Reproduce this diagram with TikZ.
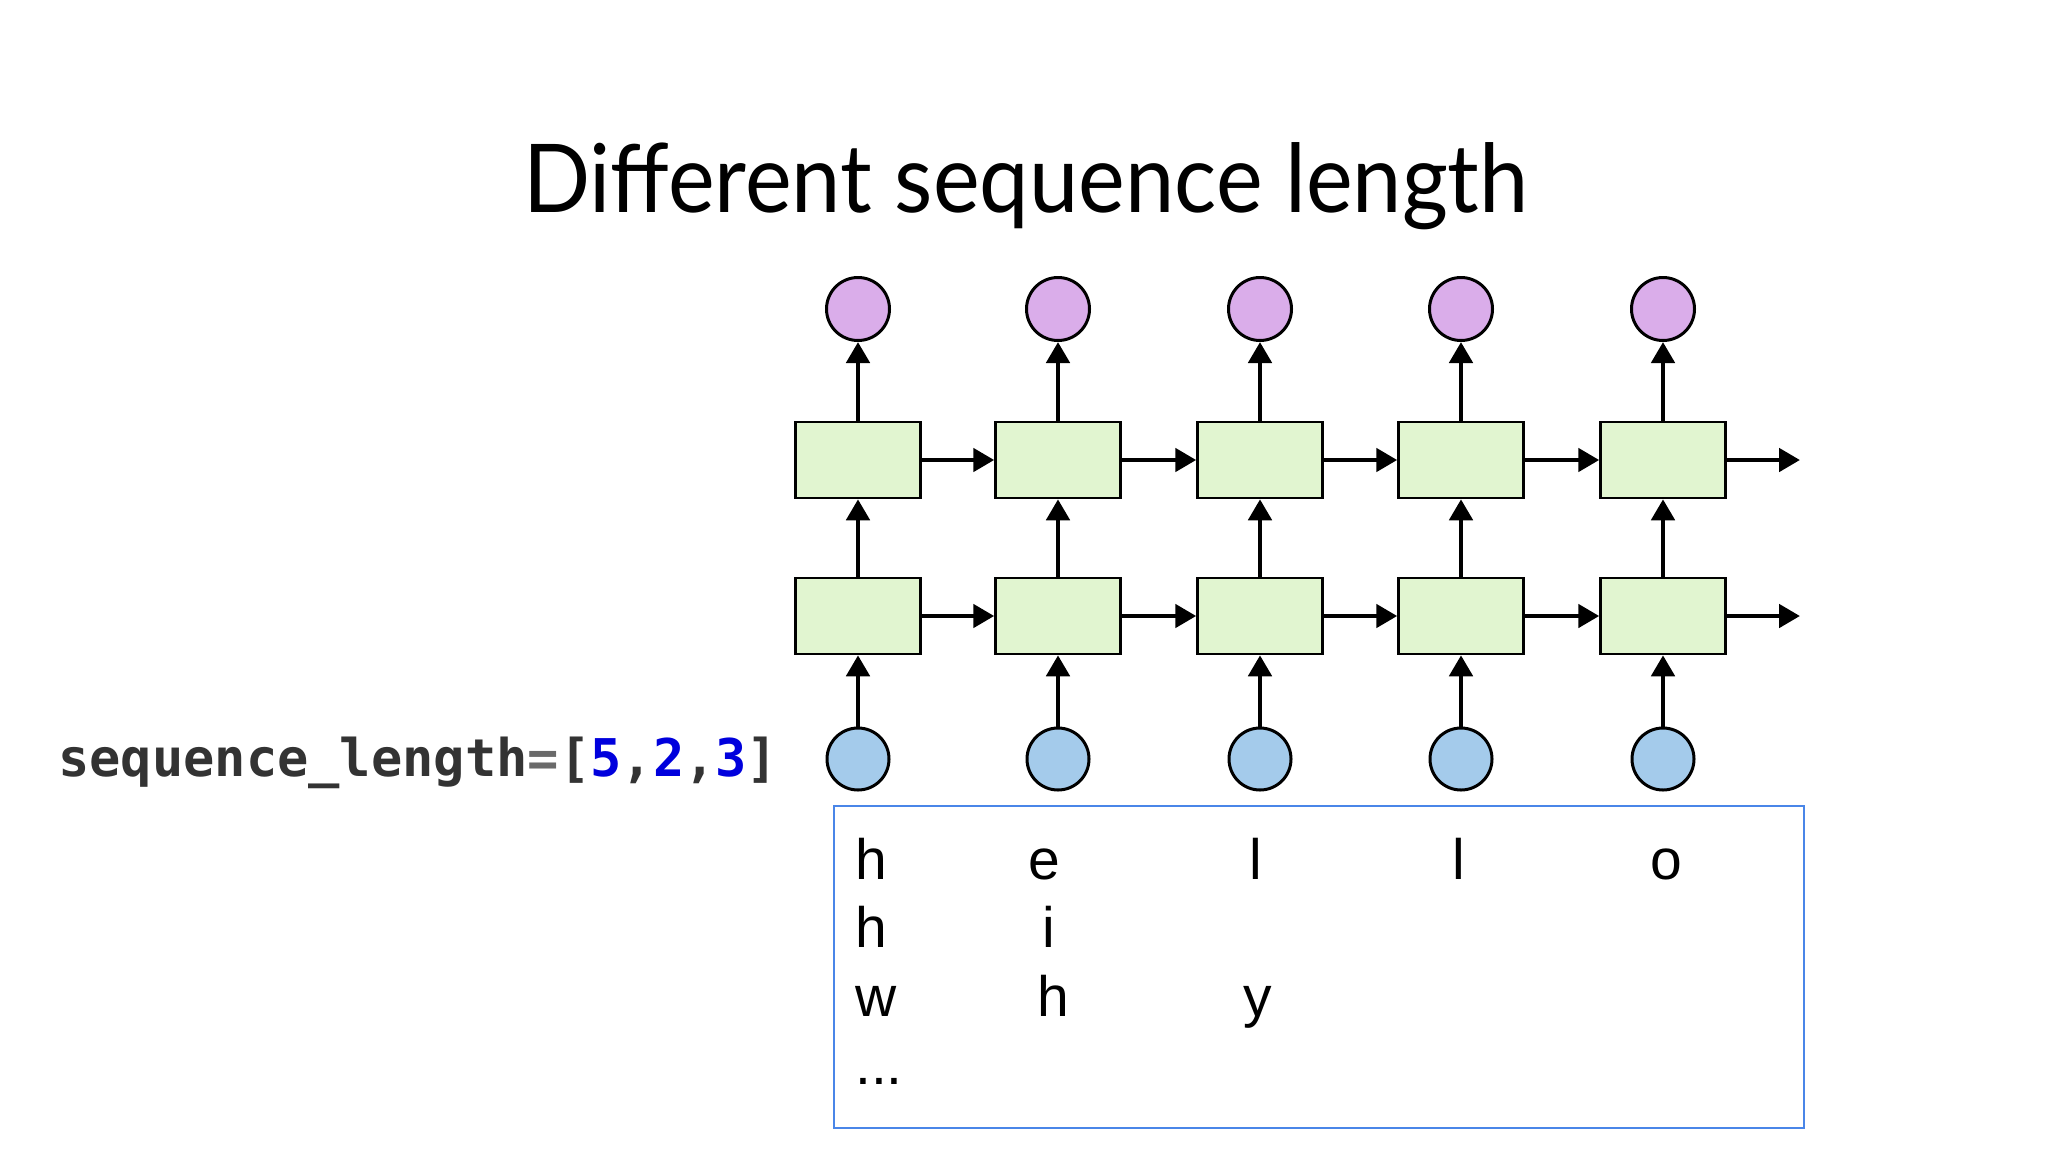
\documentclass[tikz,border=0pt]{standalone}
\usepackage{fontspec}
\setmainfont{Lato}
\newfontfamily\codefont{DejaVu Sans Mono}
\newfontfamily\arialfont{Liberation Sans}
\usetikzlibrary{arrows.meta}
\definecolor{cellgreen}{HTML}{E1F5D0}
\definecolor{outpurple}{HTML}{DAADEA}
\definecolor{inblue}{HTML}{A4CBEB}
\definecolor{boxblue}{HTML}{4A86E8}
\definecolor{codegray}{HTML}{333333}
\definecolor{eqgray}{HTML}{6A6A6A}
\definecolor{numblue}{HTML}{0000DD}
\tikzset{
  cell/.style={draw=black, line width=2.5pt, fill=cellgreen, minimum width=125pt, minimum height=76pt, inner sep=0pt},
  outc/.style={circle, draw=black, line width=3pt, fill=outpurple, minimum size=63pt, inner sep=0pt},
  inc/.style={circle, draw=black, line width=3pt, fill=inblue, minimum size=62pt, inner sep=0pt},
  conn/.style={line width=4.8pt, -{Triangle[length=21pt,width=23pt]}},
  letter/.style={font=\fontsize{57}{60}\arialfont, inner sep=0pt, anchor=base},
}
\begin{document}
\begin{tikzpicture}[x=1pt,y=-1pt]
\useasboundingbox[fill=white] (0,0) rectangle (2048,1152);
\node[font=\fontsize{95}{100}\selectfont, inner sep=0pt, anchor=base] (title) at (1026,212) {\scalebox{0.93}[1]{Different sequence length}};
\node[font=\fontsize{52}{60}\codefont\bfseries, inner sep=0pt, anchor=base west] (code) at (58,776)
  {\textcolor{codegray}{sequence\_length}\textcolor{eqgray}{=}\textcolor{codegray}{[}\textcolor{numblue}{5}\textcolor{codegray}{,}\textcolor{numblue}{2}\textcolor{codegray}{,}\textcolor{numblue}{3}\textcolor{codegray}{]}};
% columns
\foreach \i/\x in {1/858,2/1058,3/1260,4/1461,5/1663}{
  \node[outc] (o\i) at (\x,309) {};
  \node[cell] (u\i) at (\x,460) {};
  \node[cell] (l\i) at (\x,616) {};
  \node[inc] (x\i) at (\x,759) {};
  \draw[conn] (u\i.north) -- (o\i.south);
  \draw[conn] (l\i.north) -- (u\i.south);
  \draw[conn] (x\i.north) -- (l\i.south);
}
\foreach \i/\j in {1/2,2/3,3/4,4/5}{
  \draw[conn] (u\i.east) -- (u\j.west);
  \draw[conn] (l\i.east) -- (l\j.west);
}
\coordinate (ue) at (1800,460);
\coordinate (le) at (1800,616);
\draw[conn] (u5.east) -- (ue);
\draw[conn] (l5.east) -- (le);
% text box
\node[draw=boxblue, line width=2pt, minimum width=970pt, minimum height=322pt, inner sep=0pt] (tbox) at (1319,966.5) {};
\node[letter, anchor=base west] (a1) at (855,879) {h};
\node[letter] (a2) at (1044,879) {e};
\node[letter] (a3) at (1256,879) {l};
\node[letter] (a4) at (1459,879) {l};
\node[letter] (a5) at (1666,879) {o};
\node[letter, anchor=base west] (b1) at (855,947) {h};
\node[letter] (b2) at (1049,947) {i};
\node[letter, anchor=base west] (c1) at (855,1016) {w};
\node[letter] (c2) at (1053,1016) {h};
\node[letter] (c3) at (1258,1016) {y};
\node[letter, anchor=base west] (d1) at (855,1084) {...};
\end{tikzpicture}
\end{document}
